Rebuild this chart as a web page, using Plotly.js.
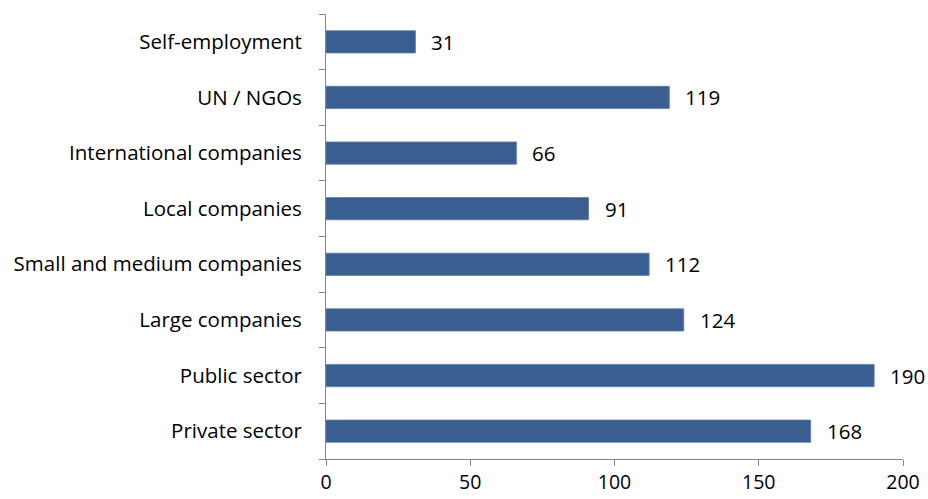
<!DOCTYPE html>
<html>
<head>
<meta charset="utf-8">
<script src="https://cdn.plot.ly/plotly-3.0.1.min.js"></script>
<style>html,body{margin:0;padding:0;background:#fff;}#chart{width:928px;height:499px;}</style>
</head>
<body>
<div id="chart"></div>
<script>
const categories = ["Private sector", "Public sector", "Large companies", "Small and medium companies", "Local companies", "International companies", "UN / NGOs", "Self-employment"];
const values = [168, 190, 124, 112, 91, 66, 119, 31];
const xTicks = [0, 50, 100, 150, 200];

const FONT = "Open Sans, sans-serif";
const trace = {
  type: "bar",
  orientation: "h",
  y: categories,
  x: values,
  marker: { color: "#395E8F", line: { color: "#5A7FAF", width: 0.8 } },
  hoverinfo: "none"
};

const annotations = categories.map((c, i) => ({
  x: values[i], y: c, xref: "x", yref: "y",
  text: String(values[i]), showarrow: false,
  xanchor: "left", yanchor: "middle", xshift: 14,
  font: { family: FONT, size: 20.5, color: "#000" }
}));

const layout = {
  width: 928, height: 499,
  margin: { l: 326, r: 25, t: 14, b: 40 },
  paper_bgcolor: "#fff", plot_bgcolor: "#fff",
  bargap: 0.6,
  showlegend: false,
  font: { family: FONT, size: 20.5, color: "#000" },
  xaxis: {
    range: [0, 200], tickvals: xTicks, ticktext: xTicks.map(String),
    showgrid: false, zeroline: false, showline: true, linecolor: "#868686", linewidth: 1,
    ticks: "outside", ticklen: 6, tickcolor: "#868686",
    ticklabelstandoff: 0,
    tickfont: { family: FONT, size: 19.5, color: "#000" }, fixedrange: true
  },
  yaxis: {
    type: "category", categoryorder: "array", categoryarray: categories,
    range: [-0.5, categories.length - 0.5],
    showgrid: false, zeroline: false, showline: true, linecolor: "#868686", linewidth: 1,
    ticks: "outside", ticklen: 6, tickcolor: "#868686", tickson: "boundaries",
    ticklabelstandoff: 19,
    tickfont: { family: FONT, size: 20.5, color: "#000" }, fixedrange: true
  },
  annotations: annotations
};

Plotly.newPlot("chart", [trace], layout, { displayModeBar: false, staticPlot: true });
</script>
</body>
</html>
